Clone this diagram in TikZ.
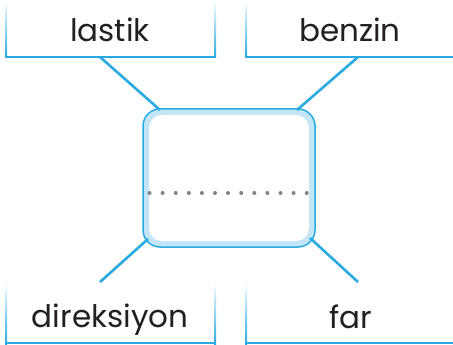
\documentclass[tikz,border=0pt]{standalone}
\usepackage{fontspec}
\setmainfont{Poppins}
\definecolor{lineblue}{HTML}{29ABE2}
\definecolor{bandblue}{HTML}{C2E5F7}
\definecolor{dotgray}{HTML}{808285}
\definecolor{inkdark}{HTML}{231F20}
\begin{document}
\begin{tikzpicture}[x=1pt,y=-1pt,
  word/.style={anchor=base,inner sep=0pt,font=\fontsize{31}{36}\selectfont,text=inkdark},
  conn/.style={draw=lineblue,line width=2.6pt},
  edge/.style={lineblue,line width=1.9pt}]
\useasboundingbox (0,0) rectangle (453,345);
% top-left frame
\shade[top color=white,bottom color=lineblue] (5,0) rectangle (7,58);
\shade[top color=white,bottom color=lineblue] (214,0) rectangle (216,58);
\draw[edge] (5,57) -- (216,57);
% top-right frame
\shade[top color=white,bottom color=lineblue] (245,0) rectangle (247,58);
\draw[edge] (245,57) -- (453,57);
% bottom-left frame
\shade[top color=white,bottom color=lineblue] (5,282) rectangle (7,344);
\shade[top color=white,bottom color=lineblue] (214,282) rectangle (216,344);
\draw[edge] (5,343.3) -- (216,343.3);
% bottom-right frame
\shade[top color=white,bottom color=lineblue] (245,282) rectangle (247,344);
\draw[edge] (245,343.3) -- (453,343.3);
% words
\node[word] (lastik) at (110,42) {lastik};
\node[word] (benzin) at (350,42) {benzin};
\node[word] (direksiyon) at (110,327) {direksiyon};
\node[word] (far) at (351,328) {far};
% centre box
\node[draw=lineblue,line width=1.5pt,fill=bandblue,rounded corners=17pt,
  minimum width=172pt,minimum height=138pt,inner sep=0pt] (box) at (229,178) {};
\fill[white,rounded corners=13pt] (149,115) rectangle (309,241);
\foreach \i in {0,...,12} \fill[dotgray] (149.5+\i*13.1,193) circle (2pt);
% connector ends
\coordinate (a1) at (100,57);
\coordinate (b1) at (358,57);
\coordinate (c1) at (100,282);
\coordinate (d1) at (358,282);
\coordinate (a2) at (160,110);
\coordinate (b2) at (297,110);
\coordinate (c2) at (148,239);
\coordinate (d2) at (310,238);
\draw[conn] (a1) -- (a2);
\draw[conn] (b1) -- (b2);
\draw[conn] (c1) -- (c2);
\draw[conn] (d1) -- (d2);
\end{tikzpicture}
\end{document}
